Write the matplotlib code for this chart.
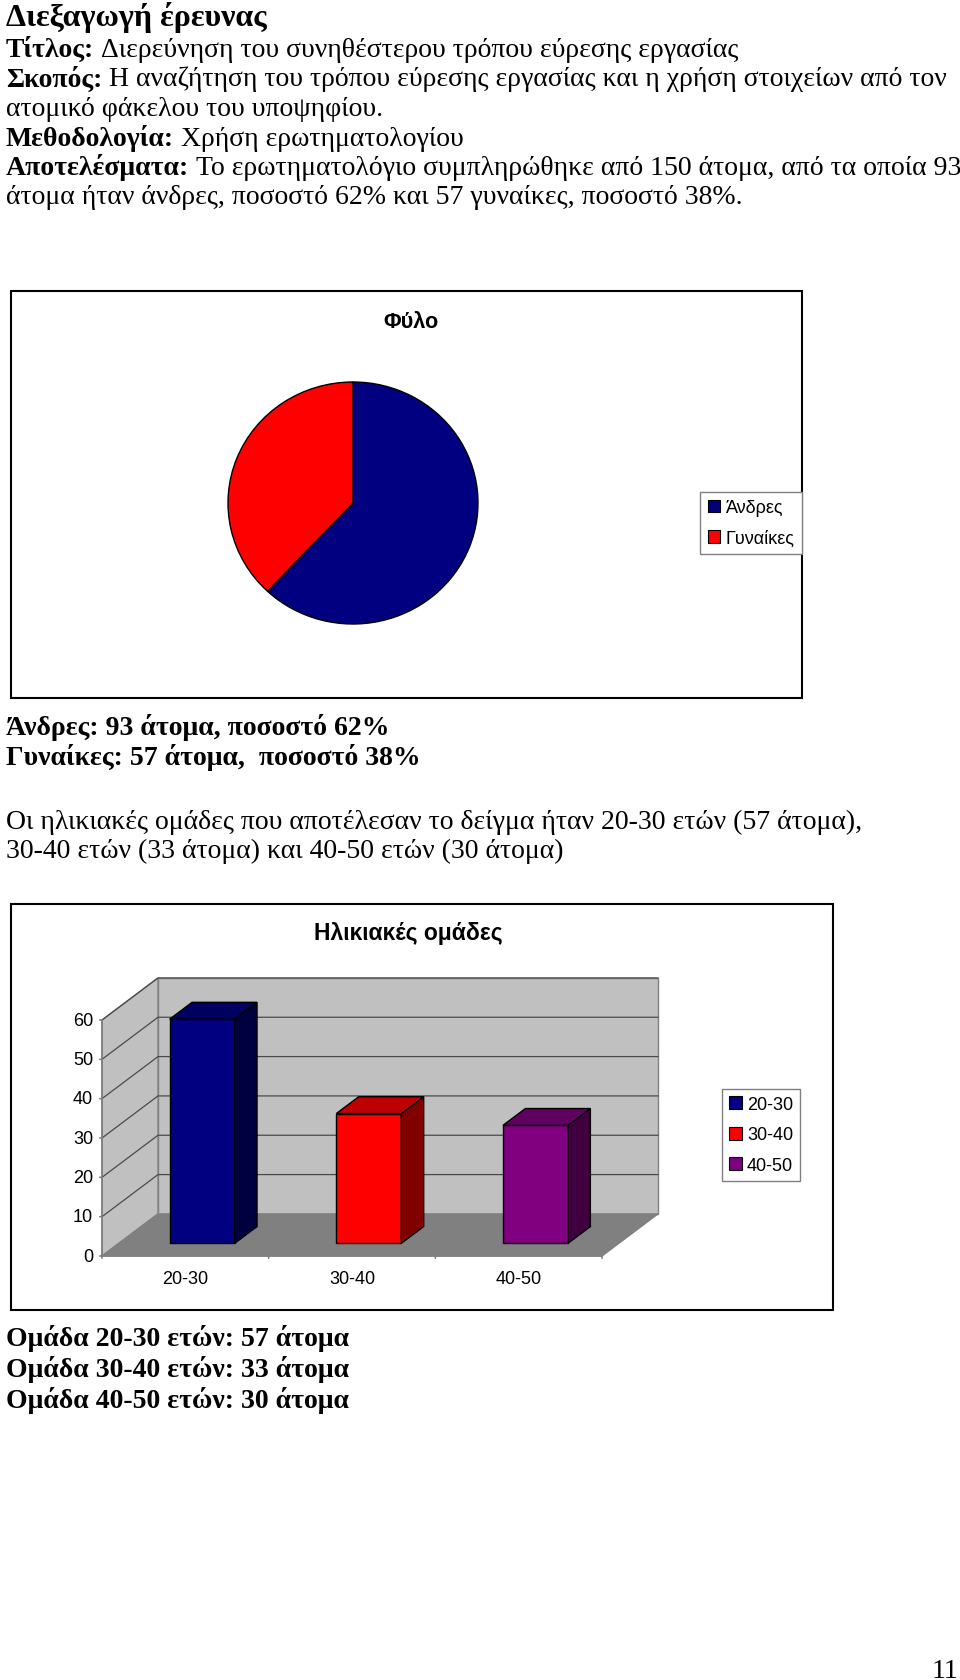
import matplotlib
matplotlib.use('Agg')
import matplotlib.pyplot as plt
from matplotlib.patches import Rectangle, Polygon, Patch

# ── DATA ───────────────────────────────────────────────────────────────────────
gender_labels = ['Άνδρες', 'Γυναίκες']
gender_counts = [93, 57]

age_groups = ['20-30', '30-40', '40-50']
age_counts = [57, 33, 30]
age_ticks  = [0, 10, 20, 30, 40, 50, 60]

intro_lines = [
    [('Τίτλος:', 'bold'), ('Διερεύνηση του συνηθέστερου τρόπου εύρεσης εργασίας', 'normal')],
    [('Σκοπός:', 'bold'), ('Η αναζήτηση του τρόπου εύρεσης εργασίας και η χρήση στοιχείων από τον', 'normal')],
    [('ατομικό φάκελου του υποψηφίου.', 'normal')],
    [('Μεθοδολογία:', 'bold'), ('Χρήση ερωτηματολογίου', 'normal')],
    [('Αποτελέσματα:', 'bold'), ('Το ερωτηματολόγιο συμπληρώθηκε από 150 άτομα, από τα οποία 93', 'normal')],
    [('άτομα ήταν άνδρες, ποσοστό 62% και 57 γυναίκες, ποσοστό 38%.', 'normal')],
]
gender_lines = ['Άνδρες: 93 άτομα, ποσοστό 62%', 'Γυναίκες: 57 άτομα,  ποσοστό 38%']
age_intro = ['Οι ηλικιακές ομάδες που αποτέλεσαν το δείγμα ήταν 20-30 ετών (57 άτομα),',
             '30-40 ετών (33 άτομα) και 40-50 ετών (30 άτομα)']
age_lines = ['Ομάδα 20-30 ετών: 57 άτομα', 'Ομάδα 30-40 ετών: 33 άτομα', 'Ομάδα 40-50 ετών: 30 άτομα']

# ── STYLE ──────────────────────────────────────────────────────────────────────
GENDER_COLORS = ['#000080', '#FF0000']
AGE_FRONT = ['#000080', '#FF0000', '#800080']
AGE_SIDE  = ['#000040', '#800000', '#400040']
AGE_TOP   = ['#000060', '#C00000', '#600060']
SERIF = 'Liberation Serif'
SANS  = 'Liberation Sans'
BODY  = 20

W, H, DPI = 960, 1681, 100
fig = plt.figure(figsize=(W / DPI, H / DPI), dpi=DPI)
renderer = fig.canvas.get_renderer()

def fx(px): return px / W
def fy(py): return 1 - py / H
def rect(l, t, r, b): return [fx(l), fy(b), fx(r) - fx(l), fy(t) - fy(b)]

def write(x, y, parts, size=BODY):
    gap = size * DPI / 72 * 0.25
    for s, w in parts:
        t = fig.text(fx(x), fy(y), s, fontsize=size, fontweight=w, family=SERIF,
                     va='baseline', ha='left')
        x += t.get_window_extent(renderer).width + gap

def frame(l, t, r, b):
    fig.add_artist(Rectangle((fx(l), fy(b)), fx(r) - fx(l), fy(t) - fy(b),
                             transform=fig.transFigure, fill=False,
                             edgecolor='black', lw=1.5))

# ── TEXT ───────────────────────────────────────────────────────────────────────
write(6, 26, [('Διεξαγωγή έρευνας', 'bold')], size=23)
for i, parts in enumerate(intro_lines):
    write(6, 57 + i * 29.5, parts)
for i, s in enumerate(gender_lines):
    write(6, 735 + i * 30, [(s, 'bold')])
for i, s in enumerate(age_intro):
    write(6, 829 + i * 29.5, [(s, 'normal')])
for i, s in enumerate(age_lines):
    write(6, 1346 + i * 31, [(s, 'bold')])
fig.text(fx(958), fy(1678), '11', fontsize=BODY, family=SERIF, ha='right', va='baseline')

# ── PIE ────────────────────────────────────────────────────────────────────────
frame(11, 292, 802, 699)
fig.text(fx(411), fy(322), 'Φύλο', ha='center', va='center', fontsize=15.6,
         fontweight='bold', family=SANS)
pie_ax = fig.add_axes(rect(353 - 125, 504 - 121, 353 + 125, 504 + 121))
wedges, _ = pie_ax.pie(gender_counts, colors=GENDER_COLORS, startangle=90, counterclock=False,
                       wedgeprops=dict(edgecolor='black', linewidth=1))
for w in wedges:
    w.set_clip_on(False)
pie_ax.set_aspect('auto')
pie_ax.set_xlim(-1, 1)
pie_ax.set_ylim(-1, 1)
pie_ax.axis('off')

handles = [Patch(facecolor=c, edgecolor='black', lw=0.8) for c in GENDER_COLORS]
fig.legend(handles, gender_labels, loc='center', bbox_to_anchor=(fx(751), fy(524)),
           frameon=True, fancybox=False, edgecolor='#808080', framealpha=1,
           prop=dict(family=SANS, size=13), handlelength=0.7, handleheight=0.7,
           handletextpad=0.3, borderpad=0.4, labelspacing=0.75)

# ── 3D BAR CHART ───────────────────────────────────────────────────────────────
frame(11, 905, 833, 1311)
fig.text(fx(408), fy(934), 'Ηλικιακές ομάδες', ha='center', va='center', fontsize=16.5,
         fontweight='bold', family=SANS)

DX, DY = 0.336, 10.7      # depth offset (slots, value units)
VMAX = age_ticks[-1]
n = len(age_groups)
X0, Y0 = 102, 1257        # front-left corner of the floor, pixels
slot_px = (602 - X0) / n
unit_px = (Y0 - 1021) / VMAX
bar_ax = fig.add_axes(rect(X0, Y0 - unit_px * (VMAX + DY), X0 + slot_px * (n + DX), Y0))
bar_ax.set_xlim(0, n + DX)
bar_ax.set_ylim(0, VMAX + DY)
bar_ax.axis('off')

def proj(x, v, d):
    return (x + d * DX, v + d * DY)

def poly(pts, fc, ec='black', lw=1.0, z=1):
    bar_ax.add_patch(Polygon([proj(*p) for p in pts], closed=True, facecolor=fc,
                             edgecolor=ec, lw=lw, zorder=z, clip_on=False))

# walls
poly([(0, 0, 1), (n, 0, 1), (n, VMAX, 1), (0, VMAX, 1)], '#C0C0C0', '#808080', 1.0, 1)
poly([(0, 0, 0), (0, 0, 1), (0, VMAX, 1), (0, VMAX, 0)], '#C0C0C0', '#808080', 1.0, 1)
poly([(0, 0, 0), (n, 0, 0), (n, 0, 1), (0, 0, 1)], '#808080', '#808080', 1.0, 1)

# gridlines
for v in age_ticks[1:]:
    xs, ys = zip(proj(0, v, 0), proj(0, v, 1), proj(n, v, 1))
    bar_ax.plot(xs, ys, color='#4a4a4a', lw=0.9, zorder=2, clip_on=False)

# axes lines and ticks
bar_ax.plot(*zip(proj(0, 0, 0), proj(0, VMAX, 0)), color='#808080', lw=1.2, zorder=3, clip_on=False)
bar_ax.plot(*zip(proj(0, 0, 0), proj(n, 0, 0)), color='#808080', lw=1.2, zorder=3, clip_on=False)
for v in age_ticks:
    bar_ax.annotate('', xy=(0, v), xytext=(-5, 0), textcoords='offset pixels',
                    arrowprops=dict(arrowstyle='-', color='#808080', lw=1.2), annotation_clip=False)
    bar_ax.annotate(str(v), xy=(0, v), xytext=(-9, 0), textcoords='offset pixels',
                    ha='right', va='center', fontsize=13, family=SANS, annotation_clip=False)
for i in range(n + 1):
    bar_ax.annotate('', xy=(i, 0), xytext=(0, -5), textcoords='offset pixels',
                    arrowprops=dict(arrowstyle='-', color='#808080', lw=1.2), annotation_clip=False)
for i, lab in enumerate(age_groups):
    bar_ax.annotate(lab, xy=(i + 0.5, 0), xytext=(0, -22), textcoords='offset pixels',
                    ha='center', va='center', fontsize=13, family=SANS, annotation_clip=False)

# bars
for i, v in enumerate(age_counts):
    x0, x1, d0, d1 = i + 0.305, i + 0.695, 0.3, 0.7
    poly([(x0, 0, d0), (x1, 0, d0), (x1, v, d0), (x0, v, d0)], AGE_FRONT[i], z=5)
    poly([(x1, 0, d0), (x1, 0, d1), (x1, v, d1), (x1, v, d0)], AGE_SIDE[i], z=5)
    poly([(x0, v, d0), (x1, v, d0), (x1, v, d1), (x0, v, d1)], AGE_TOP[i], z=5)

handles = [Patch(facecolor=c, edgecolor='black', lw=0.8) for c in AGE_FRONT]
fig.legend(handles, age_groups, loc='center', bbox_to_anchor=(fx(761), fy(1136)),
           frameon=True, fancybox=False, edgecolor='#808080', framealpha=1,
           prop=dict(family=SANS, size=13), handlelength=0.7, handleheight=0.7,
           handletextpad=0.3, borderpad=0.4, labelspacing=0.75)

fig.savefig('out.png', dpi=DPI)
